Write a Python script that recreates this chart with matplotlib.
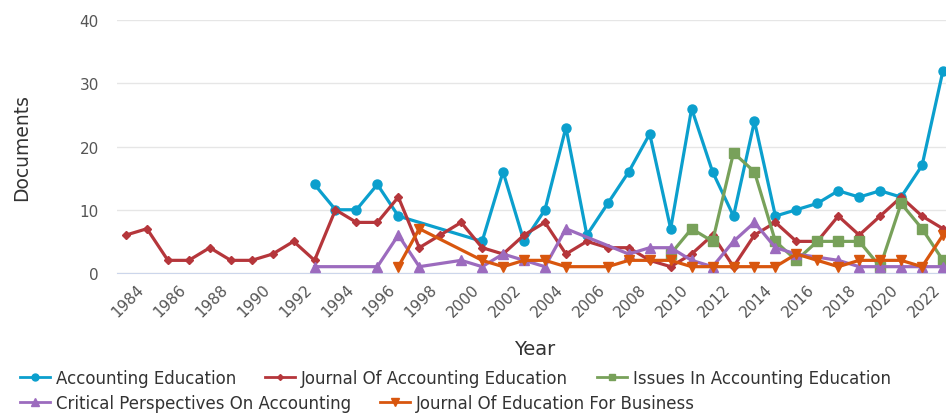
import matplotlib
matplotlib.use("Agg")
import matplotlib.pyplot as plt
from matplotlib.lines import Line2D

plt.rcParams['font.family'] = ['DejaVu Sans']

# series data (years with no documents are left out, the line just joins over them)
acc_edu_years = [1992, 1993, 1994, 1995, 1996, 2000, 2001, 2002, 2003, 2004, 2005,
                 2006, 2007, 2008, 2009, 2010, 2011, 2012, 2013, 2014, 2015, 2016,
                 2017, 2018, 2019, 2020, 2021, 2022]
acc_edu = [14, 10, 10, 14, 9, 5, 16, 5, 10, 23, 6,
           11, 16, 22, 7, 26, 16, 9, 24, 9, 10, 11,
           13, 12, 13, 12, 17, 32]

jae_years = list(range(1983, 2023))
jae = [6, 7, 2, 2, 4, 2, 2, 3, 5, 2,
       10, 8, 8, 12, 4, 6, 8, 4, 3, 6,
       8, 3, 5, 4, 4, 2, 1, 3, 6, 1,
       6, 8, 5, 5, 9, 6, 9, 12, 9, 7]

iae_years = list(range(2009, 2023))
iae = [3, 7, 5, 19, 16, 5, 2, 5, 5, 5, 1, 11, 7, 2]

cpa_years = [1992, 1995, 1996, 1997, 1999, 2000, 2001, 2002, 2003, 2004, 2007,
             2008, 2009, 2010, 2011, 2012, 2013, 2014, 2015, 2017, 2018, 2019,
             2020, 2021, 2022]
cpa = [1, 1, 6, 1, 2, 1, 3, 2, 1, 7, 3,
       4, 4, 2, 1, 5, 8, 4, 3, 2, 1, 1,
       1, 1, 1]

jeb_years = [1996, 1997, 2000, 2001, 2002, 2003, 2004, 2006, 2007, 2008, 2009,
             2010, 2011, 2012, 2013, 2014, 2015, 2016, 2017, 2018, 2019, 2020,
             2021, 2022]
jeb = [1, 7, 2, 1, 2, 2, 1, 1, 2, 2, 2,
       1, 1, 1, 1, 1, 3, 2, 1, 2, 2, 2,
       1, 6]

series = [
    ("Accounting Education", acc_edu_years, acc_edu, "#0b9fcd", "o", 6.5),
    ("Journal Of Accounting Education", jae_years, jae, "#b5363b", "D", 4.5),
    ("Issues In Accounting Education", iae_years, iae, "#78a15a", "s", 6.5),
    ("Critical Perspectives On Accounting", cpa_years, cpa, "#9c6bbe", "^", 7),
    ("Journal Of Education For Business", jeb_years, jeb, "#d8560e", "v", 7),
]

W, H = 946, 414
fig = plt.figure(figsize=(W / 100, H / 100), dpi=100)
ax = fig.add_axes([117 / W, 1 - 274 / H, 1 - 117 / W, (274 - 21) / H])

handles = []
for i, (name, xs, ys, col, mk, ms) in enumerate(series):
    ax.plot(xs, ys, color=col, lw=2.3, marker=mk, ms=ms, zorder=3 + i)
    handles.append(Line2D([], [], color=col, lw=2, marker=mk, ms=ms - 1.5, label=name))

ax.set_xlim(1983 - 9 / 20.95, 2022 + 3 / 20.95)
ax.set_ylim(0, 40)
ax.set_yticks([0, 10, 20, 30, 40])
ax.set_xticks(range(1984, 2023, 2))
ax.grid(axis='y', color='#e6e6e6', lw=1)
ax.set_axisbelow(True)
for s in ['top', 'right', 'left']:
    ax.spines[s].set_visible(False)
ax.spines['bottom'].set_color('#ccd6eb')
ax.tick_params(axis='y', length=0, pad=13, labelsize=11, labelcolor='#555555')
ax.tick_params(axis='x', length=0, pad=6, labelsize=11, labelcolor='#555555')
plt.setp(ax.get_xticklabels(), rotation=45, ha='right')

ax.set_ylabel("Documents", fontsize=13.5, color='#333333', labelpad=35)
ax.set_xlabel("Year", fontsize=14, color='#333333', labelpad=4)
ax.xaxis.set_label_coords((535 - 117) / (W - 117), -(340 - 274) / (274 - 21))

common = dict(frameon=False, fontsize=12, handlelength=1.8, handletextpad=0.35,
              columnspacing=1.75, borderpad=0, borderaxespad=0, loc='center left',
              labelcolor='#333333')
fig.legend(handles=handles[:3], ncol=3, bbox_to_anchor=(20 / W, 1 - 379 / H), **common)
fig.legend(handles=handles[3:], ncol=2, bbox_to_anchor=(20 / W, 1 - 404 / H), **common)

fig.savefig("out.png", dpi=100)
